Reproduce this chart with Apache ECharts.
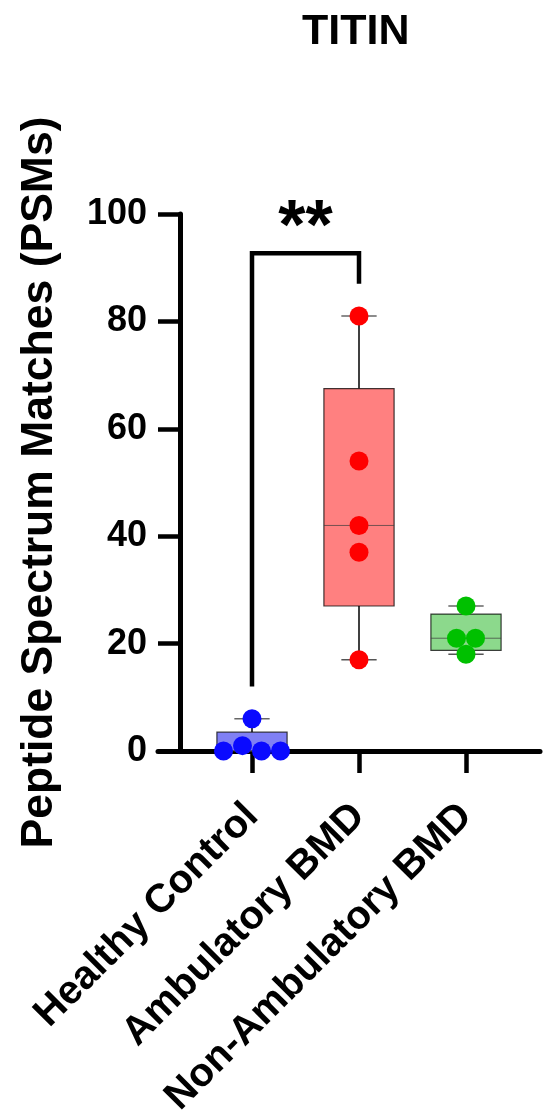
<!DOCTYPE html>
<html>
<head>
<meta charset="utf-8">
<script src="https://cdn.jsdelivr.net/npm/echarts@6/dist/echarts.min.js"></script>
<style>
html,body{margin:0;padding:0;background:#fff;}
#chart{width:550px;height:1115px;}
</style>
</head>
<body>
<div id="chart"></div>
<script>
// ---- data ----
const chartTitle = 'TITIN';
const yAxisName = 'Peptide Spectrum Matches (PSMs)';
const categories = ['Healthy Control', 'Ambulatory BMD', 'Non-Ambulatory BMD'];
const healthyControl = [0, 1, 6, 0, 0];
const ambulatoryBMD = [17, 37, 42, 54, 81];
const nonAmbulatoryBMD = [18, 21, 21, 27];
const groups = [healthyControl, ambulatoryBMD, nonAmbulatoryBMD];
const yTicks = [0, 20, 40, 60, 80, 100];
const significance = { from: 0, to: 1, label: '**', top: 92.7, leftEnd: 12, rightEnd: 87 };

// ---- styles ----
const FONT = '"Liberation Sans", Arial, Helvetica, sans-serif';
const pointColors = ['#0a0aff', '#ff0000', '#00c000'];
const boxColors = ['#8080f4', '#ff8080', '#8cd98c'];

// GraphPad-style quartiles
function quantile(sorted, p) {
  const n = sorted.length;
  let pos = p * (n + 1);
  if (pos < 1) pos = 1;
  if (pos > n) pos = n;
  const lo = Math.floor(pos), hi = Math.ceil(pos);
  return sorted[lo - 1] + (pos - lo) * (sorted[hi - 1] - sorted[lo - 1]);
}
const boxData = groups.map((g, i) => {
  const s = g.slice().sort((a, b) => a - b);
  return [i, s[0], quantile(s, 0.25), quantile(s, 0.5), quantile(s, 0.75), s[s.length - 1]];
});

// jitter: spread overlapping points symmetrically
function jitterRanks(vals, thresh) {
  const idx = vals.map((v, i) => i).sort((a, b) => vals[a] - vals[b] || a - b);
  const clusters = [];
  let cur = [idx[0]];
  for (let k = 1; k < idx.length; k++) {
    if (vals[idx[k]] - vals[idx[k - 1]] < thresh) cur.push(idx[k]);
    else { clusters.push(cur); cur = [idx[k]]; }
  }
  clusters.push(cur);
  const ranks = new Array(vals.length).fill(0);
  clusters.forEach(c => {
    c.sort((a, b) => a - b);
    c.forEach((id, k) => { ranks[id] = k - (c.length - 1) / 2; });
  });
  return ranks;
}
const pointData = [];
groups.forEach((g, gi) => {
  const r = jitterRanks(g, 3);
  g.forEach((v, k) => pointData.push([gi, v, r[k]]));
});

const chart = echarts.init(document.getElementById('chart'), null, { renderer: 'canvas' });

const option = {
  backgroundColor: '#fff',
  animation: false,
  title: {
    text: chartTitle,
    left: 297, top: 6,
    textStyle: { fontFamily: FONT, fontSize: 43, fontWeight: 'bold', color: '#000' }
  },
  grid: [
    { left: 198.5, right: 30.5, top: 214, bottom: 364, containLabel: false, outerBoundsMode: 'none' },
    { left: 158, right: 10, top: 214, bottom: 364, containLabel: false, outerBoundsMode: 'none' }
  ],
  xAxis: [
    {
      type: 'category', gridIndex: 0, data: categories, boundaryGap: true,
      axisLine: { show: false },
      axisTick: { show: true, alignWithLabel: true, length: 22, lineStyle: { color: '#000', width: 4.5 } },
      axisLabel: { rotate: 45, margin: 59, color: '#000', fontFamily: FONT, fontSize: 40, fontWeight: 'bold', interval: 0 },
      splitLine: { show: false }
    },
    {
      type: 'value', gridIndex: 1, min: 0, max: 1,
      axisLine: { show: true, onZero: false, lineStyle: { color: '#000', width: 5 } },
      axisTick: { show: false }, axisLabel: { show: false }, splitLine: { show: false }
    }
  ],
  yAxis: [
    {
      type: 'value', gridIndex: 0, min: yTicks[0], max: yTicks[yTicks.length - 1], interval: 20,
      offset: 18.5,
      name: yAxisName, nameLocation: 'middle', nameRotate: 90, nameGap: 118,
      nameTextStyle: { fontFamily: FONT, fontSize: 44.5, fontWeight: 'bold', color: '#000' },
      axisLine: { show: true, lineStyle: { color: '#000', width: 5 } },
      axisTick: { show: true, length: 22, lineStyle: { color: '#000', width: 4.5 } },
      axisLabel: { margin: 33, color: '#000', fontFamily: FONT, fontSize: 36, fontWeight: 'bold' },
      splitLine: { show: false }
    },
    { type: 'value', gridIndex: 1, show: false, min: 0, max: 1 }
  ],
  series: [
    {
      type: 'custom', name: 'box', xAxisIndex: 0, yAxisIndex: 0, z: 2,
      data: boxData,
      renderItem: function (params, api) {
        const i = api.value(0);
        const band = api.size([1, 0])[0];
        const bw = band * 0.656, cw = band * 0.33;
        const pMin = api.coord([i, api.value(1)]);
        const pQ1 = api.coord([i, api.value(2)]);
        const pMed = api.coord([i, api.value(3)]);
        const pQ3 = api.coord([i, api.value(4)]);
        const pMax = api.coord([i, api.value(5)]);
        const cx = pMed[0];
        const idx = params.dataIndex;
        return {
          type: 'group',
          children: [
            { type: 'line', shape: { x1: cx, y1: pMax[1], x2: cx, y2: pQ3[1] }, style: { stroke: '#000', lineWidth: 1.5 } },
            { type: 'line', shape: { x1: cx, y1: pQ1[1], x2: cx, y2: pMin[1] }, style: { stroke: '#000', lineWidth: 1.5 } },
            { type: 'line', shape: { x1: cx - cw / 2, y1: pMax[1], x2: cx + cw / 2, y2: pMax[1] }, style: { stroke: '#666', lineWidth: 1.5 } },
            { type: 'line', shape: { x1: cx - cw / 2, y1: pMin[1], x2: cx + cw / 2, y2: pMin[1] }, style: { stroke: '#555', lineWidth: 1.5 } },
            { type: 'rect', shape: { x: cx - bw / 2, y: pQ3[1], width: bw, height: pQ1[1] - pQ3[1] },
              style: { fill: boxColors[idx], stroke: 'rgba(0,0,0,0.75)', lineWidth: 1.2 } },
            { type: 'line', shape: { x1: cx - bw / 2, y1: pMed[1], x2: cx + bw / 2, y2: pMed[1] }, style: { stroke: 'rgba(60,60,60,0.7)', lineWidth: 1 } }
          ]
        };
      }
    },
    {
      type: 'custom', name: 'points', xAxisIndex: 0, yAxisIndex: 0, z: 3,
      data: pointData,
      renderItem: function (params, api) {
        const gi = api.value(0);
        const p = api.coord([gi, api.value(1)]);
        const spacing = 19;
        return {
          type: 'circle',
          shape: { cx: p[0] + api.value(2) * spacing, cy: p[1], r: 9.5 },
          style: { fill: pointColors[gi] }
        };
      }
    },
    {
      type: 'custom', name: 'bracket', xAxisIndex: 0, yAxisIndex: 0, z: 4,
      data: [[significance.from, significance.to, significance.top, significance.leftEnd, significance.rightEnd]],
      renderItem: function (params, api) {
        const a = api.coord([api.value(0), api.value(3)]);
        const b = api.coord([api.value(0), api.value(2)]);
        const c = api.coord([api.value(1), api.value(2)]);
        const d = api.coord([api.value(1), api.value(4)]);
        return {
          type: 'group',
          children: [
            { type: 'polyline', shape: { points: [a, b, c, d] }, style: { stroke: '#000', lineWidth: 4.5, fill: null, lineJoin: 'miter' } },
            { type: 'text', style: { x: (b[0] + c[0]) / 2, y: b[1] - 23, text: significance.label, textAlign: 'center', textVerticalAlign: 'middle',
              fontFamily: FONT, fontSize: 70, fontWeight: 'bold', fill: '#000' } }
          ]
        };
      }
    }
  ]
};
chart.setOption(option);
</script>
</body>
</html>
